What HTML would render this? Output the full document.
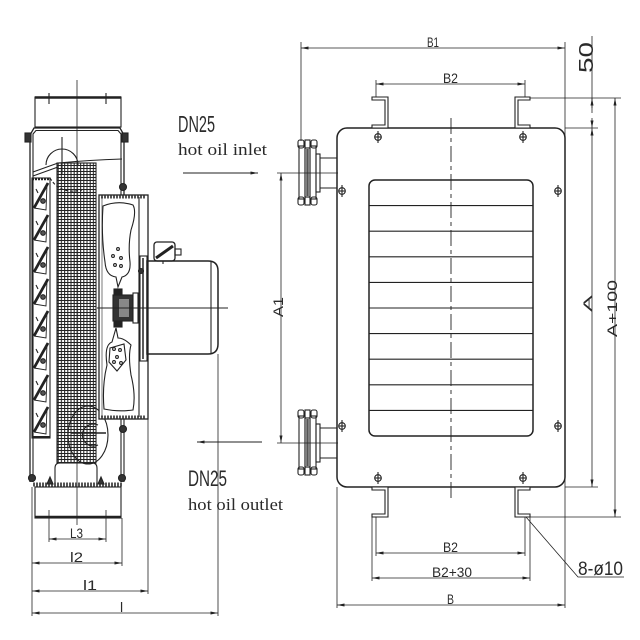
<!DOCTYPE html>
<html><head><meta charset="utf-8"><style>
html,body{margin:0;padding:0;background:#fff;width:640px;height:640px;overflow:hidden}
svg{display:block}
text{fill:#2a2a2a;font-family:"Liberation Sans",sans-serif}
.s{font-family:"Liberation Serif",serif}
</style></head><body>
<svg width="640" height="640" viewBox="0 0 640 640" xmlns="http://www.w3.org/2000/svg">
<defs>
<marker id="a" viewBox="0 0 10 4" refX="10" refY="2" markerWidth="8" markerHeight="3" markerUnits="userSpaceOnUse" orient="auto-start-reverse"><path d="M0,0 L10,2 L0,4 Z" fill="#222"/></marker>
<pattern id="mesh" width="3.2" height="3" patternUnits="userSpaceOnUse"><path d="M0,0.5 H3.2 M0.6,0 V3" stroke="#222" stroke-width="1.05" fill="none"/></pattern>
</defs>
<g stroke="#222" fill="none" stroke-width="1.1">

<!-- ============ LEFT VIEW ============ -->
<line x1="77" y1="80" x2="77" y2="525" stroke-width="0.8"/>
<rect x="35" y="97" width="86" height="30"/>
<line x1="35" y1="97.5" x2="121" y2="97.5" stroke-width="2.5"/>
<line x1="49" y1="93" x2="49" y2="104"/>
<line x1="106" y1="93" x2="106" y2="104"/>
<path d="M30,482 V135 L34,128 H120 L124,135 V195" stroke-width="1.3"/>
<path d="M33,482 V134 L36,130.5 H118 L121,134 V195"/>
<path d="M124,419 V482 M121,419 V482" stroke-width="1.1"/>
<rect x="25" y="133" width="6" height="9" fill="#333"/>
<rect x="122" y="133" width="6" height="9" fill="#333"/>
<circle cx="123" cy="187" r="3.5" fill="#333"/>
<circle cx="123" cy="429" r="3.5" fill="#333"/>
<path d="M33,172 L58,163 Q90,160 122,159"/>
<path d="M33,176 L58,167"/>
<path d="M46,165 A16,16 0 0 1 78,165"/>
<line x1="62" y1="137" x2="62" y2="175"/>
<path d="M50,178 Q60,195 82,190" stroke-dasharray="3 2"/>
<ellipse cx="88" cy="435" rx="20" ry="29"/>
<path d="M98,425 A11,11 0 1 0 98,445"/>
<line x1="71" y1="433" x2="106" y2="433" stroke-width="1.5"/>
<rect x="57" y="163" width="39" height="300" fill="url(#mesh)" stroke="#222"/>
<rect x="32" y="178" width="18" height="260"/>
<line x1="32" y1="179" x2="50" y2="179" stroke-width="2.5" stroke-dasharray="2 1"/>
<line x1="32" y1="437" x2="50" y2="437" stroke-width="2"/>
<g id="lv">
<path d="M34,208 L46,210 L47,184" stroke-width="0.9"/>
<line x1="34" y1="208" x2="48" y2="183" stroke-width="2.8"/>
<circle cx="43" cy="201" r="2.3" fill="#555"/>
<line x1="36" y1="189" x2="38" y2="193"/>
</g>
<use href="#lv" y="32"/><use href="#lv" y="64"/><use href="#lv" y="96"/>
<use href="#lv" y="128"/><use href="#lv" y="160"/><use href="#lv" y="192"/><use href="#lv" y="224"/>
<rect x="99" y="195" width="49" height="224" stroke-width="1.3" fill="#fff"/>
<line x1="101" y1="197" x2="146" y2="197" stroke-width="3" stroke-dasharray="2 1" stroke="#555"/>
<line x1="101" y1="417" x2="146" y2="417" stroke-width="3" stroke-dasharray="2 1" stroke="#555"/>
<line x1="139" y1="197" x2="139" y2="417"/>
<line x1="102" y1="197" x2="102" y2="417" stroke-width="0.6"/>
<path d="M103,206 Q118,200 133,205 Q137,212 131,230 Q128,245 130,262 Q131,275 122,277 L118,287 L116,277 Q106,276 105,262 Q101,235 103,206 Z" fill="#fff"/>
<circle cx="118" cy="249" r="1.4"/><circle cx="113" cy="256" r="1.4"/><circle cx="121" cy="258" r="1.4"/>
<circle cx="115" cy="265" r="1.4"/><circle cx="121" cy="266" r="1.4"/>
<path d="M116,328 L112,342 Q104,345 107,365 Q102,385 104,409 Q118,412 133,410 Q136,395 131,375 Q128,355 131,345 Q124,338 118,338 Z" fill="#fff"/>
<path d="M110,348 L124,344 L126,360 L117,371 L109,362 Z"/>
<circle cx="114" cy="349" r="1.4"/><circle cx="120" cy="350" r="1.4"/><circle cx="117" cy="357" r="1.4"/>
<circle cx="114" cy="362" r="1.4"/><circle cx="121" cy="363" r="1.4"/>
<rect x="113" y="295" width="20" height="26" fill="#333"/>
<rect x="119" y="299" width="10" height="18" fill="#888" stroke="none"/>
<rect x="114" y="289" width="8" height="6" fill="#222"/>
<rect x="114" y="321" width="8" height="6" fill="#222"/>
<rect x="133" y="293" width="5" height="30" fill="#fff"/>
<rect x="140" y="256" width="7" height="105"/>
<line x1="143" y1="258" x2="143" y2="359" stroke-width="1.5"/>
<path d="M147,261 H208 Q218,261 218,271 V344 Q218,354 208,354 H147 Z" stroke-width="1.5"/>
<line x1="211" y1="262" x2="211" y2="353"/>
<circle cx="141" cy="271" r="2.5" fill="#333"/>
<rect x="154" y="242" width="21" height="19" rx="3" stroke-width="1.3"/>
<line x1="156" y1="258" x2="173" y2="246" stroke-width="3"/>
<rect x="175" y="249" width="6" height="6"/>
<line x1="163" y1="261" x2="163" y2="264"/>
<line x1="97" y1="308" x2="228" y2="308" stroke-width="0.9"/>
<path d="M55,483 V468 Q55,463 60,463 H92 Q97,463 97,468 V483"/>
<line x1="33" y1="484.5" x2="122" y2="484.5" stroke-width="4" stroke="#555" stroke-dasharray="2 1"/>
<circle cx="32" cy="478" r="3.5" fill="#333"/>
<circle cx="122" cy="478" r="3.5" fill="#333"/>
<path d="M47,484 L50,477 L53,484 Z" fill="#333"/>
<path d="M98,484 L101,477 L104,484 Z" fill="#333"/>
<rect x="35" y="487" width="86" height="31"/>
<line x1="35" y1="517" x2="121" y2="517" stroke-width="2.5"/>
<line x1="49" y1="510" x2="49" y2="542" stroke-width="0.8"/>
<line x1="106" y1="510" x2="106" y2="542" stroke-width="0.8"/>
<line x1="122" y1="518" x2="122" y2="566" stroke-width="0.8"/>
<line x1="32" y1="487" x2="32" y2="616" stroke-width="0.8"/>
<line x1="148" y1="361" x2="148" y2="594" stroke-width="0.8"/>
<line x1="218" y1="354" x2="218" y2="616" stroke-width="0.8"/>
<line x1="49" y1="539" x2="106" y2="539" stroke-width="0.8" marker-start="url(#a)" marker-end="url(#a)"/>
<line x1="32" y1="563" x2="122" y2="563" stroke-width="0.8" marker-start="url(#a)" marker-end="url(#a)"/>
<line x1="32" y1="591" x2="148" y2="591" stroke-width="0.8" marker-start="url(#a)" marker-end="url(#a)"/>
<line x1="32" y1="613" x2="218" y2="613" stroke-width="0.8" marker-start="url(#a)" marker-end="url(#a)"/>

<line x1="183" y1="173" x2="258" y2="173" stroke-width="1" marker-end="url(#a)"/>
<line x1="262" y1="442" x2="197" y2="442" stroke-width="1" marker-end="url(#a)"/>

<!-- ============ RIGHT VIEW ============ -->
<rect x="337" y="128" width="228" height="359" rx="10" stroke-width="1.5"/>
<rect x="369" y="180" width="164" height="256" rx="6" stroke-width="1.5"/>
<g stroke-width="1.1">
<line x1="369" y1="205.6" x2="533" y2="205.6"/><line x1="369" y1="231.2" x2="533" y2="231.2"/>
<line x1="369" y1="256.8" x2="533" y2="256.8"/><line x1="369" y1="282.4" x2="533" y2="282.4"/>
<line x1="369" y1="308" x2="533" y2="308"/><line x1="369" y1="333.6" x2="533" y2="333.6"/>
<line x1="369" y1="359.2" x2="533" y2="359.2"/><line x1="369" y1="384.8" x2="533" y2="384.8"/>
<line x1="369" y1="410.4" x2="533" y2="410.4"/>
</g>
<line x1="451" y1="118" x2="451" y2="498" stroke-width="0.9" stroke-dasharray="16 4 4 4"/>
<g id="h"><circle cx="378" cy="137" r="3.3"/><line x1="378" y1="131" x2="378" y2="143"/><line x1="375" y1="137" x2="381" y2="137"/></g>
<use href="#h" x="145"/><use href="#h" y="341"/><use href="#h" x="145" y="341"/>
<use href="#h" x="-36" y="54"/><use href="#h" x="180" y="54"/>
<use href="#h" x="-36" y="289"/><use href="#h" x="180" y="289"/>
<path d="M372,97 H388 V128 H372 V125 H385 V100 H372 Z" fill="#fff" stroke-width="1.1"/>
<path d="M530,97 H515 V128 H530 V125 H518 V100 H530 Z" fill="#fff" stroke-width="1.1"/>
<path d="M372,487 H388 V517 H372 V514 H385 V490 H372 Z" fill="#fff" stroke-width="1.1"/>
<path d="M530,487 H515 V517 H530 V514 H518 V490 H530 Z" fill="#fff" stroke-width="1.1"/>
<g id="fl">
<rect x="316" y="154" width="4" height="38"/>
<path d="M320,158 H337 M320,188 H337"/>
<rect x="299" y="146" width="6" height="53"/>
<rect x="310" y="146" width="6" height="53"/>
<rect x="305" y="148" width="5" height="49"/>
<line x1="307.5" y1="149" x2="307.5" y2="196" stroke-width="2.5" stroke="#555"/>
<rect x="298" y="140" width="6" height="8" rx="2"/><rect x="305" y="140" width="5" height="8"/><rect x="311" y="140" width="6" height="8" rx="2"/>
<rect x="298" y="197" width="6" height="8" rx="2"/><rect x="305" y="197" width="5" height="8"/><rect x="311" y="197" width="6" height="8" rx="2"/>
</g>
<use href="#fl" y="270"/>
<g stroke-width="0.8">
<line x1="301" y1="42" x2="301" y2="141"/>
<line x1="565" y1="42" x2="565" y2="608"/>
<line x1="301" y1="48" x2="565" y2="48" marker-start="url(#a)" marker-end="url(#a)"/>
<line x1="376" y1="80" x2="376" y2="97"/>
<line x1="525" y1="80" x2="525" y2="97"/>
<line x1="376" y1="84" x2="525" y2="84" marker-start="url(#a)" marker-end="url(#a)"/>
<line x1="530" y1="98" x2="621" y2="98"/>
<line x1="565" y1="128" x2="598" y2="128"/>
<line x1="565" y1="487" x2="598" y2="487"/>
<line x1="530" y1="517" x2="621" y2="517"/>
<line x1="592" y1="36" x2="592" y2="113"/>
<line x1="592" y1="108" x2="592" y2="98" marker-end="url(#a)"/>
<line x1="592" y1="118" x2="592" y2="128" marker-end="url(#a)"/>
<line x1="592" y1="128" x2="592" y2="487" marker-start="url(#a)" marker-end="url(#a)"/>
<line x1="615" y1="98" x2="615" y2="517" marker-start="url(#a)" marker-end="url(#a)"/>
<line x1="277" y1="173" x2="338" y2="173"/>
<line x1="277" y1="443" x2="338" y2="443"/>
<line x1="281" y1="173" x2="281" y2="443" marker-start="url(#a)" marker-end="url(#a)"/>
<line x1="337" y1="487" x2="337" y2="608"/>
<line x1="376" y1="517" x2="376" y2="556"/>
<line x1="525" y1="517" x2="525" y2="556"/>
<line x1="372" y1="517" x2="372" y2="581"/>
<line x1="530" y1="517" x2="530" y2="581"/>
<line x1="376" y1="553" x2="525" y2="553" marker-start="url(#a)" marker-end="url(#a)"/>
<line x1="372" y1="578" x2="530" y2="578" marker-start="url(#a)" marker-end="url(#a)"/>
<line x1="337" y1="605" x2="565" y2="605" marker-start="url(#a)" marker-end="url(#a)"/>
<path d="M526,517 L578,577 H624"/>
</g>
</g>

<text x="178" y="132" font-size="23" textLength="37" lengthAdjust="spacingAndGlyphs">DN25</text>
<text class="s" x="178" y="155" font-size="17" textLength="89" lengthAdjust="spacingAndGlyphs">hot oil inlet</text>
<text x="188" y="486" font-size="22" textLength="39" lengthAdjust="spacingAndGlyphs">DN25</text>
<text class="s" x="188" y="510" font-size="17" textLength="95" lengthAdjust="spacingAndGlyphs">hot oil outlet</text>

<text x="70" y="538" font-size="14" textLength="13" lengthAdjust="spacingAndGlyphs">L3</text>
<text x="70" y="562" font-size="14" textLength="13" lengthAdjust="spacingAndGlyphs">l2</text>
<text x="83" y="590" font-size="14" textLength="14" lengthAdjust="spacingAndGlyphs">l1</text>
<text x="120" y="612" font-size="14">l</text>

<text x="427" y="47" font-size="14" textLength="12" lengthAdjust="spacingAndGlyphs">B1</text>
<text x="443" y="83" font-size="14" textLength="15" lengthAdjust="spacingAndGlyphs">B2</text>
<text x="443" y="552" font-size="14" textLength="15" lengthAdjust="spacingAndGlyphs">B2</text>
<text x="432" y="577" font-size="14" textLength="40" lengthAdjust="spacingAndGlyphs">B2+30</text>
<text x="447" y="604" font-size="14" textLength="7" lengthAdjust="spacingAndGlyphs">B</text>
<text x="578" y="575" font-size="19" textLength="45" lengthAdjust="spacingAndGlyphs">8-ø10</text>

<text transform="translate(593,73) rotate(-90)" font-size="20" textLength="31" lengthAdjust="spacingAndGlyphs">50</text>
<text transform="translate(592,312) rotate(-90)" font-size="12" textLength="17" lengthAdjust="spacingAndGlyphs">A</text>
<text transform="translate(617,337) rotate(-90)" font-size="14" textLength="57" lengthAdjust="spacingAndGlyphs">A+100</text>
<text transform="translate(283,317) rotate(-90)" font-size="14" textLength="20" lengthAdjust="spacingAndGlyphs">A1</text>
</svg>
</body></html>
